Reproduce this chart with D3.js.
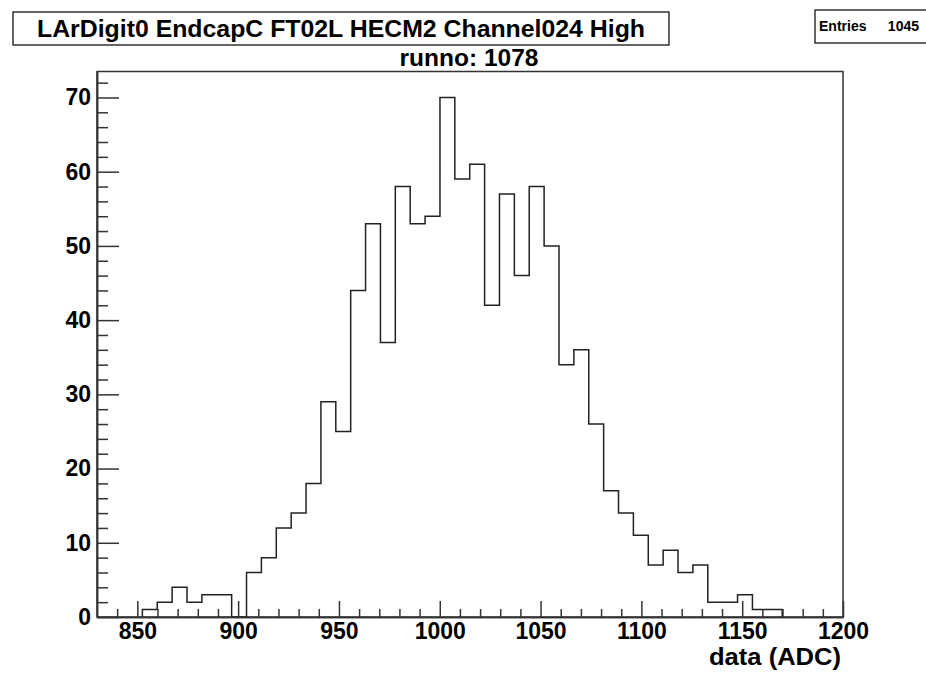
<!DOCTYPE html>
<html>
<head>
<meta charset="utf-8">
<script src="https://cdn.jsdelivr.net/npm/d3@7"></script>
<style>
  body { margin: 0; background: #fff; }
  text { font-family: "Liberation Sans", Arial, sans-serif; font-weight: bold; fill: #000; }
</style>
</head>
<body>
<svg id="chart" width="926" height="673"></svg>
<script>
// histogram contents
var counts = [1, 2, 4, 2, 3, 3, 0, 6, 8, 12, 14, 18, 29, 25, 44, 53, 37, 58, 53, 54, 70,
  59, 61, 42, 57, 46, 58, 50, 34, 36, 26, 17, 14, 11, 7, 9, 6, 7, 2, 2, 3, 1, 1];
var firstEdge = 852.5, binWidth = 7.38;

var xMajor = [850, 900, 950, 1000, 1050, 1100, 1150, 1200];
var xMinor = [840, 860, 870, 880, 890, 910, 920, 930, 940, 960, 970, 980, 990, 1010, 1020,
  1030, 1040, 1060, 1070, 1080, 1090, 1110, 1120, 1130, 1140, 1160, 1170, 1180, 1190];
var yMajor = [0, 10, 20, 30, 40, 50, 60, 70];
var yMinor = [2, 4, 6, 8, 12, 14, 16, 18, 22, 24, 26, 28, 32, 34, 36, 38, 42, 44, 46, 48,
  52, 54, 56, 58, 62, 64, 66, 68, 72];

var title = "LArDigit0 EndcapC FT02L HECM2 Channel024 High";
var subtitle = "runno: 1078";
var xTitle = "data (ADC)";

// frame of the pad
var padL = 97, padR = 843, padT = 71.5, padB = 617;

var svg = d3.select("#chart");

var x = d3.scaleLinear().domain([830, 1200]).range([padL, padR]);
var y = d3.scaleLinear().domain([0, 73.5]).range([padB, padT]);

// frame
svg.append("rect")
  .attr("x", padL).attr("y", padT)
  .attr("width", padR - padL).attr("height", padB - padT)
  .attr("fill", "none").attr("stroke", "#333").attr("stroke-width", 1.5);

// histogram outline
var pts = [[firstEdge, 0]];
counts.forEach(function (c, i) {
  pts.push([firstEdge + i * binWidth, c]);
  pts.push([firstEdge + (i + 1) * binWidth, c]);
});
pts.push([firstEdge + counts.length * binWidth, 0]);

var line = d3.line()
  .x(function (d) { return x(d[0]); })
  .y(function (d) { return y(d[1]); });

svg.append("path")
  .attr("d", line(pts))
  .attr("fill", "none")
  .attr("stroke", "#222")
  .attr("stroke-width", 1.5);

// x axis: minor then major ticks, pointing into the pad
svg.append("g")
  .attr("transform", "translate(0," + padB + ")")
  .call(d3.axisBottom(x).tickValues(xMinor).tickSize(-8).tickSizeOuter(0).tickFormat(""));
svg.append("g")
  .attr("transform", "translate(0," + padB + ")")
  .call(d3.axisBottom(x).tickValues(xMajor).tickSize(-16).tickSizeOuter(0)
    .tickPadding(6).tickFormat(d3.format("d")));

// y axis
svg.append("g")
  .attr("transform", "translate(" + padL + ",0)")
  .call(d3.axisLeft(y).tickValues(yMinor).tickSize(-11).tickSizeOuter(0).tickFormat(""));
svg.append("g")
  .attr("transform", "translate(" + padL + ",0)")
  .call(d3.axisLeft(y).tickValues(yMajor).tickSize(-22).tickSizeOuter(0)
    .tickPadding(6).tickFormat(d3.format("d")));

svg.selectAll(".tick line").attr("stroke", "#333").attr("stroke-width", 1.5);
svg.selectAll(".domain").attr("stroke", "#333").attr("stroke-width", 1.5);
svg.selectAll(".tick text")
  .attr("font-size", 23)
  .attr("font-family", "Liberation Sans, Arial, sans-serif")
  .attr("font-weight", "bold")
  .attr("fill", "#000");

// axis title
svg.append("text")
  .attr("x", 841).attr("y", 665)
  .attr("text-anchor", "end")
  .attr("font-size", 24)
  .attr("textLength", 132).attr("lengthAdjust", "spacingAndGlyphs")
  .text(xTitle);

// title box
svg.append("rect")
  .attr("x", 13).attr("y", 12).attr("width", 656).attr("height", 33)
  .attr("fill", "#fff").attr("stroke", "#000").attr("stroke-width", 1.2);
svg.append("text")
  .attr("x", 341).attr("y", 37)
  .attr("text-anchor", "middle")
  .attr("font-size", 23)
  .attr("textLength", 608).attr("lengthAdjust", "spacingAndGlyphs")
  .text(title);

svg.append("text")
  .attr("x", 469).attr("y", 66)
  .attr("text-anchor", "middle")
  .attr("font-size", 23)
  .attr("textLength", 139).attr("lengthAdjust", "spacingAndGlyphs")
  .text(subtitle);

// stats box
svg.append("rect")
  .attr("x", 815).attr("y", 10).attr("width", 130).attr("height", 33)
  .attr("fill", "#fff").attr("stroke", "#000").attr("stroke-width", 1.2);
svg.append("text")
  .attr("x", 819).attr("y", 31)
  .attr("font-size", 14)
  .text("Entries");
svg.append("text")
  .attr("x", 919).attr("y", 31)
  .attr("text-anchor", "end")
  .attr("font-size", 14)
  .text(d3.sum(counts));
</script>
</body>
</html>
